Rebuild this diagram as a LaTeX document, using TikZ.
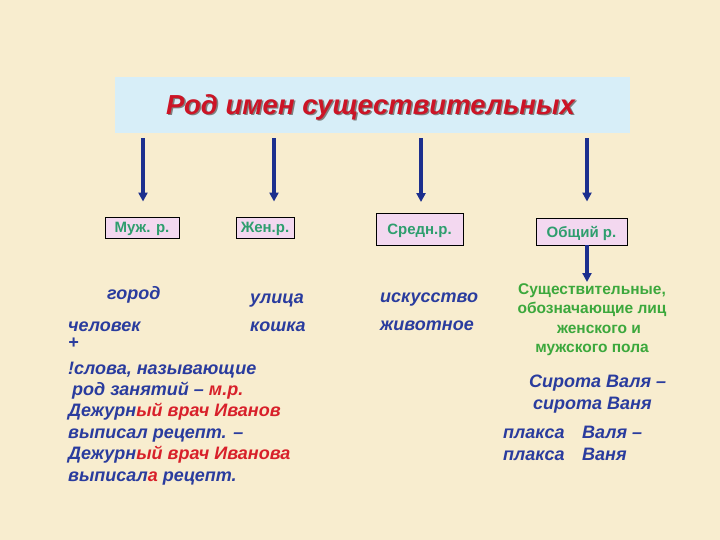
\documentclass[tikz,border=0pt]{standalone}
\usepackage{fontspec}
\setmainfont{Liberation Sans}
\usepackage{xcolor}
\usetikzlibrary{arrows.meta}
\definecolor{PaperBg}{HTML}{F8EDCF}
\definecolor{TitleBlue}{HTML}{D7EEF8}
\definecolor{TitleRed}{HTML}{CC1426}
\definecolor{ArrowBlue}{HTML}{1C2F8E}
\definecolor{BoxPink}{HTML}{F3D8F0}
\definecolor{BoxGreen}{HTML}{2E9E6E}
\definecolor{TextBlue}{HTML}{2A3C9E}
\definecolor{TextRed}{HTML}{D8202A}
\definecolor{TextGreen}{HTML}{3CA83C}
\tikzset{
  arr/.style={line width=3.2bp,ArrowBlue,-{Triangle[width=9bp,length=9bp]}},
  genbox/.style={draw=black,line width=0.9bp,fill=BoxPink,text=BoxGreen,
    font=\fontsize{15bp}{17bp}\selectfont\bfseries,inner sep=0pt,text depth=0pt},
  word/.style={anchor=base west,inner sep=0pt,text=TextBlue,
    font=\fontsize{18bp}{21bp}\selectfont\bfseries\itshape}
}
\begin{document}
\begin{tikzpicture}[x=1bp,y=-1bp]
        \fill[PaperBg] (0,0) rectangle (720,540);
        \useasboundingbox (0,0) rectangle (720,540);

        % title
        \node[fill=TitleBlue,minimum width=515bp,minimum height=56bp] (title) at (372.5,105) {};
        \node[text=black!50,font=\fontsize{27.5bp}{30bp}\selectfont\bfseries\itshape] at (372,108.5) {Род имен существительных};
        \node[text=TitleRed,font=\fontsize{27.5bp}{30bp}\selectfont\bfseries\itshape] at (370.5,107) {Род имен существительных};

        % genders
        \node[genbox,minimum width=74bp,minimum height=21bp] (male) at (142,227.5) {Муж. р.};
        \node[genbox,minimum width=58bp,minimum height=21bp] (female) at (265,227.5) {Жен.р.};
        \node[genbox,minimum width=87bp,minimum height=32bp] (neuter) at (419.5,229.5) {Средн.р.};
        \node[genbox,minimum width=91bp,minimum height=27bp] (common) at (581.5,231.5) {Общий р.};

        \coordinate (a1) at (143,0);
        \coordinate (a2) at (274,0);
        \coordinate (a3) at (421,0);
        \coordinate (a4) at (587,0);
        \draw[arr,shorten <=5bp,shorten >=15bp] (title.south -| a1) -- (male.north -| a1);
        \draw[arr,shorten <=5bp,shorten >=15bp] (title.south -| a2) -- (female.north -| a2);
        \draw[arr,shorten <=5bp,shorten >=11bp] (title.south -| a3) -- (neuter.north -| a3);
        \draw[arr,shorten <=5bp,shorten >=16bp] (title.south -| a4) -- (common.north -| a4);

        % examples
        \node[word] (w1) at (107,299) {город};
        \node[word] (w2) at (250,303) {улица};
        \node[word] (w3) at (68,331) {человек};
        \node[word] (w4) at (250,331) {кошка};
        \node[word] (w5) at (68,348) {+};
        \node[word] (w6) at (68,374) {!слова, называющие};
        \node[word] (w7) at (72,395) {род занятий – \textcolor{TextRed}{м.р.}};
        \node[word] (w8) at (68,416) {Дежурн\textcolor{TextRed}{ый врач Иванов}};
        \node[word] (w9) at (68,438) {выписал рецепт. –};
        \node[word] (w10) at (68,459) {Дежурн\textcolor{TextRed}{ый врач Иванова}};
        \node[word] (w11) at (68,481) {выписал\textcolor{TextRed}{а} рецепт.};
        \node[word] (w12) at (380,302) {искусство};
        \node[word] (w13) at (380,330) {животное};

        \node[align=center,inner sep=0pt,anchor=north,text=TextGreen,
          font=\fontsize{15.5bp}{19.5bp}\selectfont\bfseries] (para) at (592,283)
          {Существительные,\\обозначающие лиц\\\hspace*{14bp}женского и\\мужского пола};
        \draw[arr,shorten >=1bp] (common.south -| a4) -- (para.north -| a4);

        \node[word] (w14) at (529,387) {Сирота Валя –};
        \node[word] (w15) at (533,409) {сирота Ваня};
        \node[word] (w16) at (503,438) {плакса};
        \node[word] (w17) at (582,438) {Валя –};
        \node[word] (w18) at (503,460) {плакса};
        \node[word] (w19) at (582,460) {Ваня};
    \end{tikzpicture}
\end{document}
